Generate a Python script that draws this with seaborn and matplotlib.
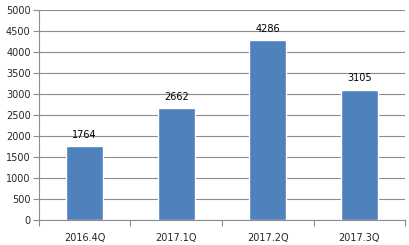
import matplotlib
matplotlib.use("Agg")
import matplotlib.pyplot as plt
import seaborn as sns
import pandas as pd
import numpy as np

categories = ["2016.4Q", "2017.1Q", "2017.2Q", "2017.3Q"]
values = [1764, 2662, 4286, 3105]
yticks = [0, 500, 1000, 1500, 2000, 2500, 3000, 3500, 4000, 4500, 5000]

sns.set_theme(style="white")
plt.rcParams['font.family'] = ['DejaVu Sans']

df = pd.DataFrame({"cat": categories, "val": values})
fig = plt.figure(figsize=(4.1, 2.45), dpi=100)
ax = fig.add_axes([0.095, 0.102, 0.893, 0.857])
sns.barplot(data=df, x="cat", y="val", color="#4F81BD", saturation=1, width=0.4, ax=ax)

ax.set_ylim(0, 5000)
ax.set_xlim(-0.5, 3.5)
ax.set_yticks(yticks)
ax.set_yticklabels([str(t) for t in yticks], fontsize=7)
ax.yaxis.grid(True, color="#8c8c8c", linewidth=0.8)
ax.set_axisbelow(True)
ax.set_xlabel("")
ax.set_ylabel("")
for s in ["top", "right"]:
    ax.spines[s].set_visible(False)
for s in ["left", "bottom"]:
    ax.spines[s].set_color("#8c8c8c")
    ax.spines[s].set_linewidth(0.8)
ax.tick_params(axis="y", direction="out", length=4, color="#8c8c8c", width=0.8, pad=2, left=True)
ax.tick_params(axis="x", which="major", length=0, pad=9, labelsize=7)
ax.set_xticks(np.arange(-0.5, 4, 1), minor=True)
ax.tick_params(axis="x", which="minor", direction="out", length=4, color="#8c8c8c", width=0.8, bottom=True)

for i, v in enumerate(values):
    ax.text(i, v + 150, str(v), ha="center", va="bottom", fontsize=7, color="black")

fig.savefig("out.png", dpi=100)
